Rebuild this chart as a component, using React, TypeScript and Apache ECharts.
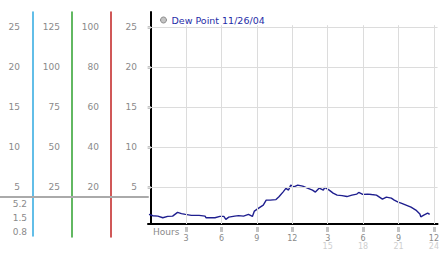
import React, { useEffect, useRef } from "react";
import * as echarts from "echarts";

const seriesName = "Dew Point 11/26/04";
const hours = [
  -0.14, 0.19, 0.61, 1.03, 1.44, 1.86, 2.28, 2.61, 2.95, 3.45, 4.11, 4.61, 4.7, 5.45, 5.87,
  6.2, 6.37, 6.62, 7.12, 7.45, 7.87, 8.29, 8.62, 8.79, 9.12, 9.54, 9.79, 10.12, 10.62, 10.87,
  11.21, 11.46, 11.68, 11.87, 12.13, 12.46, 12.88, 13.29, 13.71, 13.96, 14.29, 14.63, 14.75,
  15.13, 15.46, 15.8, 16.22, 16.63, 17.05, 17.47, 17.63, 17.97, 18.38, 18.72, 19.13, 19.64,
  19.97, 20.39, 20.64, 20.97, 21.22, 21.64, 22.06, 22.47, 22.81, 22.89, 23.14, 23.47, 23.64,
];
const dewPoint = [
  1.55, 1.38, 1.34, 1.13, 1.3, 1.34, 1.8, 1.65, 1.55, 1.43, 1.43, 1.34, 1.13, 1.13, 1.3,
  1.3, 0.93, 1.21, 1.34, 1.4, 1.34, 1.55, 1.3, 1.96, 2.3, 2.71, 3.34, 3.34, 3.4, 3.75,
  4.34, 4.8, 4.59, 5.21, 5.0, 5.21, 5.09, 4.84, 4.59, 4.34, 4.84, 4.59, 4.93,
  4.59, 4.21, 3.96, 3.9, 3.78, 3.96, 4.09, 4.3, 4.05, 4.09, 4.03, 3.96, 3.46,
  3.71, 3.59, 3.34, 3.09, 2.96, 2.71, 2.46, 2.09, 1.59, 1.25, 1.46, 1.71, 1.55,
];
const yTicks = [5, 10, 15, 20, 25];
const col1Ticks = [5, 10, 15, 20, 25];
const col2Ticks = [25, 50, 75, 100, 125];
const col3Ticks = [20, 40, 60, 80, 100];
const subLabels = ["0.8", "1.5", "5.2"];
const hourTicks = [3, 6, 9, 12, 15, 18, 21, 24];

const FONT = "DejaVu Sans";
const GRAY = "#8a8a8a";

export default function App() {
  const ref = useRef<HTMLDivElement>(null);
  useEffect(() => {
    document.body.style.margin = "0";
    const chart = echarts.init(ref.current!, null, { renderer: "svg" });
    const hiddenX = (gridIndex: number) => ({ type: "value", gridIndex, show: false, min: 0, max: 1 });
    const colAxis = (gridIndex: number, min: number, max: number, ticks: number[], color: string, margin: number) => ({
      type: "value",
      gridIndex,
      position: "left",
      min,
      max,
      axisLine: { show: true, lineStyle: { color, width: 1.5, opacity: 1 } },
      axisTick: { show: false },
      splitLine: { show: false },
      axisLabel: { customValues: ticks, margin, color: GRAY, fontFamily: FONT, fontSize: 9 },
    });
    chart.setOption({
      animation: false,
      backgroundColor: "#fff",
      grid: [
        { left: 148, top: 12, width: 294, height: 212 },
        { left: 33, top: 12, width: 1, height: 224 },
        { left: 72, top: 12, width: 1, height: 225 },
        { left: 111, top: 12, width: 1, height: 225 },
        { left: 0, top: 197, width: 148, height: 42 },
      ],
      legend: {
        data: [{ name: seriesName, icon: "circle" }],
        left: 155,
        top: 10,
        itemWidth: 6,
        itemHeight: 6,
        selectedMode: false,
        itemStyle: { color: "#c4c4c4", borderColor: "#8a8a8a", borderWidth: 1 },
        textStyle: { color: "#1f2ea8", fontFamily: FONT, fontSize: 9.5 },
      },
      xAxis: [
        {
          type: "value",
          gridIndex: 0,
          min: -0.225,
          max: 24.31,
          position: "bottom",
          axisLine: { show: true, onZero: false, lineStyle: { color: "#000", width: 2 } },
          axisTick: {
            show: true,
            customValues: hourTicks,
            length: 8,
            lineStyle: { color: "#c4c4c4", width: 3, type: [0, 3, 5, 20] },
          },
          axisLabel: {
            customValues: hourTicks,
            margin: 10,
            formatter: (v: number) => (v > 12 ? `{a|${v - 12}}\n{b|${v}}` : `{a|${v}}`),
            rich: {
              a: { color: GRAY, fontFamily: FONT, fontSize: 8, lineHeight: 8.5 },
              b: { color: "#cfcfcf", fontFamily: FONT, fontSize: 8, lineHeight: 8.5 },
            },
          },
          splitLine: { show: false },
        },
        hiddenX(1),
        hiddenX(2),
        hiddenX(3),
        {
          type: "value",
          gridIndex: 4,
          position: "top",
          min: 0,
          max: 1,
          axisLine: { show: true, onZero: false, lineStyle: { color: "#aaaaaa", width: 2 } },
          axisTick: { show: false },
          axisLabel: { show: false },
          splitLine: { show: false },
        },
      ],
      yAxis: [
        {
          type: "value",
          gridIndex: 0,
          min: 0.35,
          max: 26.85,
          position: "left",
          axisLine: { show: true, lineStyle: { color: "#000", width: 2 } },
          axisTick: { show: true, customValues: yTicks, length: 3, lineStyle: { color: "#c4c4c4", width: 3 } },
          axisLabel: { customValues: yTicks, margin: 11, color: GRAY, fontFamily: FONT, fontSize: 9 },
          splitLine: { show: false },
        },
        colAxis(1, -1.15, 26.85, col1Ticks, "#2ea8e0", 13),
        colAxis(2, -6.375, 134.25, col2Ticks, "#2ea02e", 12),
        colAxis(3, -5.1, 107.4, col3Ticks, "#c02020", 12),
        {
          type: "category",
          gridIndex: 4,
          position: "left",
          offset: -33,
          data: subLabels,
          axisLine: { show: false },
          axisTick: { show: false },
          axisLabel: { margin: 6, color: GRAY, fontFamily: FONT, fontSize: 9 },
          splitLine: { show: false },
        },
      ],
      graphic: [
        {
          type: "text",
          left: 153,
          top: 227,
          style: { text: "Hours", fill: GRAY, font: `9px ${FONT}` },
        },
      ],
      series: [
        {
          type: "line",
          name: "grid",
          xAxisIndex: 0,
          yAxisIndex: 0,
          data: [],
          z: 1,
          silent: true,
          markLine: {
            silent: true,
            symbol: "none",
            label: { show: false },
            lineStyle: { color: "#dcdcdc", width: 1, type: "solid" },
            data: [
              ...yTicks.map((v) => ({ yAxis: v })),
              ...hourTicks.map((h) => [{ coord: [h, 25.2] }, { coord: [h, 0.35] }]),
            ],
          },
        },
        {
          type: "line",
          name: seriesName,
          xAxisIndex: 0,
          yAxisIndex: 0,
          z: 3,
          showSymbol: false,
          symbol: "circle",
          data: hours.map((h, i) => [h, dewPoint[i]]),
          lineStyle: { color: "#1f1f8f", width: 1.4 },
          itemStyle: { color: "#c4c4c4" },
        },
      ],
    });
    return () => chart.dispose();
  }, []);
  return <div ref={ref} style={{ width: 442, height: 253 }} />;
}
